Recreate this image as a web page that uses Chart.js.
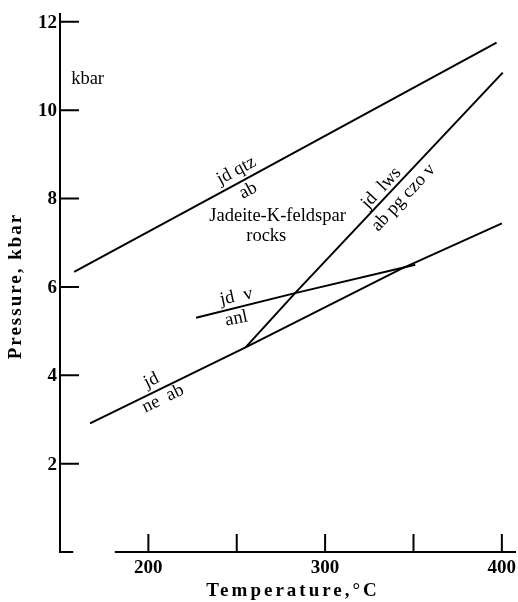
<!DOCTYPE html>
<html>
<head>
<meta charset="utf-8">
<script src="https://cdn.jsdelivr.net/npm/chart.js@4.4.1/dist/chart.umd.min.js"></script>
<style>
  html, body { margin: 0; padding: 0; background: #fff; }
</style>
</head>
<body>
<canvas id="phaseChart" width="518" height="602"></canvas>
<script>
// Reaction curves: temperature (°C) and pressure (kbar)
const jdQtzTemp = [158, 250, 397];
const jdQtzPres = [6.34, 8.33, 11.53];

const jdNeTemp = [167, 255, 343, 400];
const jdNePres = [2.91, 4.63, 6.41, 7.44];

const jdVTemp = [227, 283, 351];
const jdVPres = [5.30, 5.86, 6.50];

const jdLwsTemp = [255, 283, 400.5];
const jdLwsPres = [4.63, 5.86, 10.85];

// axis ticks
const tempTicks = [200, 250, 300, 350, 400];
const tempTickLabels = ["200", "", "300", "", "400"];
const presTicks = [2, 4, 6, 8, 10, 12];
const presTickLabels = ["2", "4", "6", "8", "10", "12"];

// field / reaction labels (temperature, pressure, rotation in degrees)
const fieldLabels = [
  { text: "kbar", t: 156.3, p: 10.7, angle: 0, align: "left" },
  { text: "jd qtz", t: 249.8, p: 8.63, angle: -28 },
  { text: "ab", t: 256.4, p: 8.18, angle: -28 },
  { text: "Jadeite-K-feldspar", t: 273.1, p: 7.61, angle: 0 },
  { text: "rocks", t: 266.7, p: 7.16, angle: 0 },
  { text: "jd  v", t: 249.8, p: 5.78, angle: -12 },
  { text: "anl", t: 249.8, p: 5.28, angle: -12 },
  { text: "jd  lws", t: 331.8, p: 8.24, angle: -47 },
  { text: "ab pg czo v", t: 344.4, p: 8.02, angle: -47 },
  { text: "jd", t: 201.7, p: 3.88, angle: -26 },
  { text: "ne  ab", t: 208.3, p: 3.47, angle: -26 }
];

function toPoints(ts, ps) {
  return ts.map((t, i) => ({ x: t, y: ps[i] }));
}

function curve(ts, ps) {
  return {
    data: toPoints(ts, ps),
    showLine: true,
    borderColor: "#000",
    borderWidth: 2,
    pointRadius: 0,
    fill: false,
    tension: 0
  };
}

// draws the hand-style axes, ticks, titles and labels
const paperAxes = {
  id: "paperAxes",
  afterDatasetsDraw(chart) {
    const ctx = chart.ctx;
    const xs = chart.scales.x;
    const ys = chart.scales.y;
    const x0 = xs.getPixelForValue(150);
    const y0 = ys.getPixelForValue(0);

    ctx.save();
    ctx.strokeStyle = "#000";
    ctx.fillStyle = "#000";
    ctx.lineWidth = 2;

    // axis lines, with the gap near the origin
    ctx.beginPath();
    ctx.moveTo(x0, ys.getPixelForValue(12.2));
    ctx.lineTo(x0, y0);
    ctx.lineTo(xs.getPixelForValue(157.5), y0);
    ctx.moveTo(xs.getPixelForValue(181), y0);
    ctx.lineTo(xs.getPixelForValue(408), y0);
    ctx.stroke();

    // inward tick marks
    ctx.beginPath();
    presTicks.forEach((v) => {
      const py = ys.getPixelForValue(v);
      ctx.moveTo(x0, py);
      ctx.lineTo(x0 + 19, py);
    });
    tempTicks.forEach((v) => {
      const px = xs.getPixelForValue(v);
      ctx.moveTo(px, y0);
      ctx.lineTo(px, y0 - 18);
    });
    ctx.stroke();

    // tick labels
    ctx.font = "bold 19px 'Liberation Serif', serif";
    ctx.textAlign = "right";
    ctx.textBaseline = "middle";
    presTicks.forEach((v, i) => {
      ctx.fillText(presTickLabels[i], x0 - 3, ys.getPixelForValue(v) + 1);
    });
    ctx.textAlign = "center";
    tempTicks.forEach((v, i) => {
      ctx.fillText(tempTickLabels[i], xs.getPixelForValue(v), y0 + 16);
    });

    // axis titles
    ctx.font = "bold 19px 'Liberation Serif', serif";
    ctx.letterSpacing = "3px";
    ctx.fillText("Temperature,°C", 293, 591);
    ctx.letterSpacing = "2px";
    ctx.save();
    ctx.translate(16, 286);
    ctx.rotate(-Math.PI / 2);
    ctx.fillText("Pressure, kbar", 0, 0);
    ctx.restore();
    ctx.letterSpacing = "0px";

    // field and reaction labels
    ctx.font = "18.5px 'Liberation Serif', serif";
    fieldLabels.forEach((lb) => {
      ctx.save();
      ctx.translate(xs.getPixelForValue(lb.t), ys.getPixelForValue(lb.p));
      ctx.rotate((lb.angle * Math.PI) / 180);
      ctx.textAlign = lb.align || "center";
      ctx.fillText(lb.text, 0, 0);
      ctx.restore();
    });

    ctx.restore();
  }
};

const ctx = document.getElementById("phaseChart").getContext("2d");

new Chart(ctx, {
  type: "scatter",
  data: {
    datasets: [
      curve(jdQtzTemp, jdQtzPres),
      curve(jdNeTemp, jdNePres),
      curve(jdVTemp, jdVPres),
      curve(jdLwsTemp, jdLwsPres)
    ]
  },
  options: {
    responsive: false,
    animation: false,
    layout: {
      padding: { left: 60, right: 2, top: 13, bottom: 50 }
    },
    plugins: {
      legend: { display: false },
      tooltip: { enabled: false }
    },
    scales: {
      x: { type: "linear", min: 150, max: 408, display: false },
      y: { type: "linear", min: 0, max: 12.2, display: false }
    }
  },
  plugins: [paperAxes]
});
</script>
</body>
</html>
